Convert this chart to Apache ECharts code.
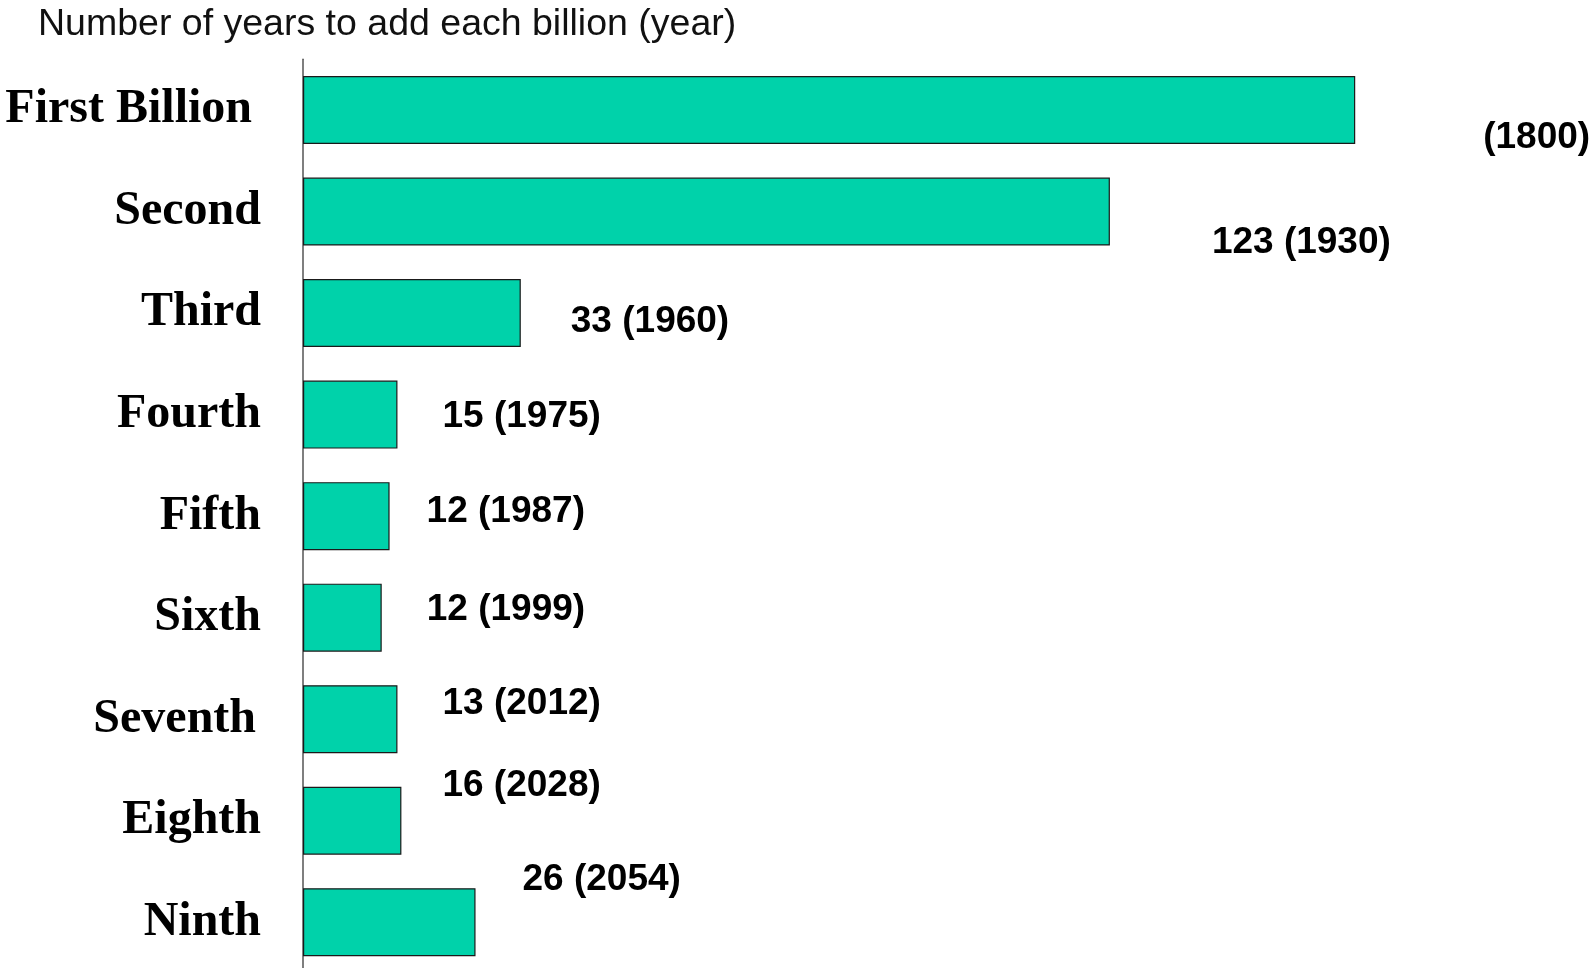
<!DOCTYPE html>
<html>
<head>
<meta charset="utf-8">
<script src="https://cdn.jsdelivr.net/npm/echarts@6/dist/echarts.min.js"></script>
<style>html,body{margin:0;padding:0;background:#fff;overflow:hidden}#chart{width:1596px;height:973px}</style>
</head>
<body>
<div id="chart"></div>
<script>
// ---- data ----
const categories = ["First Billion", "Second", "Third", "Fourth", "Fifth", "Sixth", "Seventh", "Eighth", "Ninth"];
const barValues = [160.4, 123, 33.2, 14.4, 13.2, 12, 14.4, 15, 26.3];
const durationLabels = ["", "123", "33", "15", "12", "12", "13", "16", "26"];
const yearReached = ["1800", "1930", "1960", "1975", "1987", "1999", "2012", "2028", "2054"];
const titleText = "Number of years to add each billion (year)";

// ---- label placement (layout, not data) ----
const labelOffsets = [[128, 28], [102, 31], [50, 9], [45, 2], [37, -4], [45, -8], [45, -15], [41, -35], [47, -42]];
const categoryLabelPad = [9, 0, 0, 0, 0, 0, 5, 0, 0];

const chart = echarts.init(document.getElementById('chart'));
const seriesData = barValues.map((v, i) => ({
  value: v,
  label: { offset: labelOffsets[i] }
}));
const catData = categories.map((c, i) => ({
  value: c,
  textStyle: { padding: [0, categoryLabelPad[i], 0, 0] }
}));
chart.setOption({
  animation: false,
  backgroundColor: '#ffffff',
  title: {
    text: titleText,
    left: 38, top: 6, padding: 0,
    textStyle: { fontFamily: 'Liberation Sans, Arial, sans-serif', fontWeight: 'normal', fontSize: 37.5, color: '#111' }
  },
  grid: { left: 303, right: 46.6, top: 59.25, bottom: 0, containLabel: false },
  xAxis: {
    type: 'value', min: 0, max: 190,
    show: false
  },
  yAxis: {
    type: 'category', data: catData, inverse: true,
    axisLine: { show: true, lineStyle: { color: '#555', width: 1.5 } },
    axisTick: { show: false },
    axisLabel: {
      margin: 42,
      fontFamily: 'Liberation Serif, Times New Roman, serif',
      fontWeight: 'bold', fontSize: 48, color: '#000'
    },
    splitLine: { show: false }
  },
  series: [{
    type: 'bar',
    data: seriesData,
    barWidth: 68,
    itemStyle: { color: '#00D2AA', borderColor: '#1a1a1a', borderWidth: 1.2 },
    label: {
      show: true, position: 'right', distance: 0,
      fontFamily: 'Liberation Sans, Arial, sans-serif',
      fontWeight: 'bold', fontSize: 37, color: '#000',
      formatter: p => {
        const d = durationLabels[p.dataIndex];
        return (d ? d + ' ' : '') + '(' + yearReached[p.dataIndex] + ')';
      }
    }
  }]
});
</script>
</body>
</html>
